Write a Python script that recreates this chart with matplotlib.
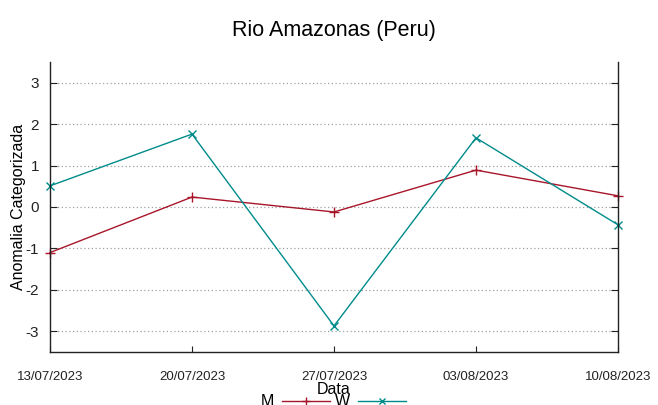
import pandas as pd
import matplotlib
matplotlib.use('Agg')
import matplotlib.pyplot as plt
import matplotlib.dates as mdates

plt.rcParams['font.family'] = ['Liberation Sans', 'DejaVu Sans']
plt.rcParams['axes.unicode_minus'] = False

# Anomalia categorizada por semana
datas = ['2023-07-13', '2023-07-20', '2023-07-27', '2023-08-03', '2023-08-10']
serie_m = [-1.1, 0.24, -0.12, 0.89, 0.27]
serie_w = [0.51, 1.76, -2.87, 1.67, -0.43]
yticks = [-3, -2, -1, 0, 1, 2, 3]

x = pd.to_datetime(datas)

fig = plt.figure(figsize=(6.58, 4.05), dpi=100)
ax = fig.add_axes([50 / 658, 53 / 405, 568 / 658, 290 / 405])

ax.plot(x, serie_m, color='#a8162a', lw=1.0, marker='+', ms=7, mew=1.0,
        label='M', clip_on=False)
ax.plot(x, serie_w, color='#008b8b', lw=1.0, marker='x', ms=6, mew=1.0,
        label='W', clip_on=False)

ax.set_xlim(x[0], x[-1])
ax.set_ylim(-3.5, 3.5)
ax.set_yticks(yticks)
ax.set_xticks(x)
ax.xaxis.set_major_formatter(mdates.DateFormatter('%d/%m/%Y'))

ax.yaxis.grid(True, linestyle=(0, (1, 2)), color='#a0a0a0', lw=0.9)
ax.xaxis.grid(False)

ax.spines['top'].set_visible(False)
for s in ['left', 'right', 'bottom']:
    ax.spines[s].set_linewidth(1.0)
    ax.spines[s].set_color('#222222')

ax.tick_params(axis='y', direction='in', left=True, right=True, length=5,
               labelsize=11, pad=8, colors='#222222')
ax.tick_params(axis='x', direction='in', bottom=True, length=4,
               labelsize=9.5, pad=14, colors='#222222')

ax.set_ylabel('Anomalia Categorizada', fontsize=11.5, labelpad=-0.5)
ax.set_xlabel('Data', fontsize=11.5, labelpad=-1)
ax.set_title('Rio Amazonas (Peru)', fontsize=15.5, pad=19)

fig.legend(loc='center', bbox_to_anchor=(333 / 658, 3 / 405), ncol=2,
           frameon=False, markerfirst=False, fontsize=11.5, handlelength=3.0,
           handletextpad=0.5, columnspacing=0.3, borderaxespad=0,
           markerscale=0.8)

fig.savefig('out.png', dpi=100)
